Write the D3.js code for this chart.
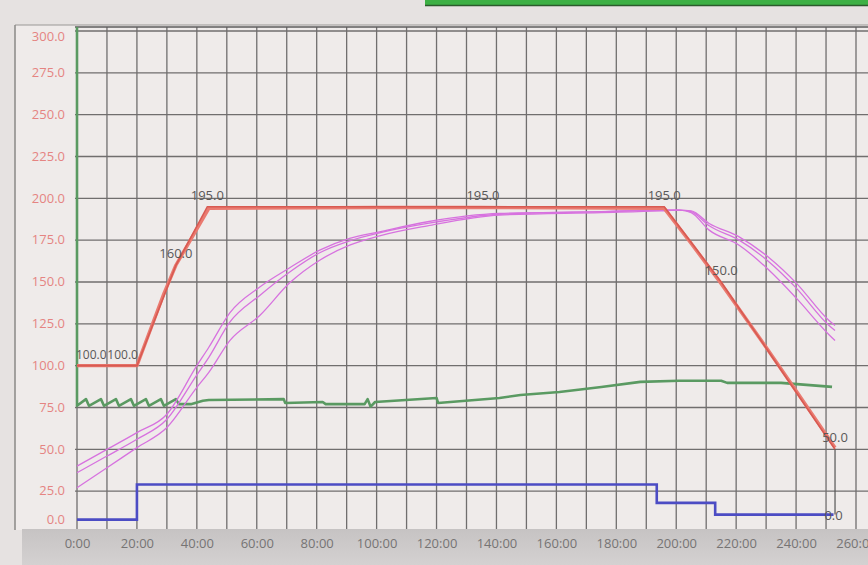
<!DOCTYPE html>
<html><head><meta charset="utf-8">
<script src="https://cdn.jsdelivr.net/npm/d3@7"></script>
<style>
body{margin:0;background:#e8e5e3;}
svg{display:block;font-family:"Open Sans",sans-serif;}
</style>
</head><body>
<svg id="c" width="868" height="565"></svg>
<script>
// ---- data ----
const xTicks = [0,20,40,60,80,100,120,140,160,180,200,220,240,260];
const xGrid = d3.range(0, 280, 10);
const yTicks = [0,25,50,75,100,125,150,175,200,225,250,275,300];

// setpoint profile (red)
const spTime   = [0,20,33,43.5,135.5,196,215,253];
const spValue  = [100,100,160,195,195,195,150,50];
const spLabels = ["100.0","100.0","160.0","195.0","195.0","195.0","150.0","50.0"];

// measured value (red, follows setpoint)
const pvTime  = [0,20,29,33,44,100,135,196,205,215,230,240,253];
const pvValue = [100,100,143,160,194,194.5,194.5,194,173,149,111,85,51];

// blue step series
const blueTime  = [0,20,20,193.5,193.5,213,213,252.5];
const blueValue = [8,8,29,29,18,18,11,11];
const blueLabel = "0.0";

// end drop marker
const endTime = [253,253];
const endValue = [50,11];

// green series
const greenTime  = [0,0,3,4,8,9,13,14,18,19,23,24,28,29,33,34,38,42,44,69,69.5,82,83,96,97,98,99.5,120,120.5,141,148,161,175,188,201,215,217,235,252];
const greenValue = [330,76,80,76,80,76,80,76,80,76,80,76,80,76,80,77,77,79,79.5,80,77.7,78.3,77,77,80,75.5,78.3,80.7,77.7,80.7,82.5,84.3,87.3,90.3,91,91,89.7,89.7,87.3];

// magenta curves (three probes)
const magTime = [0,10,20,30,40,44,51,61,71,81,91,101,117,141,175,195,201,205,211,221,231,240,251,253];
const magA = [40,50,60,71,100,111,131.6,147,158.5,169,176,180,186,191,192,193,193,192.5,185,177,164.5,149.5,127,124];
const magB = [36,46,56,68,94.5,105,126,142,156,167.5,174.6,179.4,185,190.5,192,193,193,192,183.6,175,162,146.5,124,121];
const magC = [27,39,51,63,87,96,115,130,149.5,163,172,177.6,183.6,190,191.5,192.5,193,191.5,181,172,157,140.5,118.5,115];

// ---- scales ----
const x = d3.scaleLinear().domain([0,260]).range([77,856]);
const y = d3.scaleLinear().domain([0,300]).range([533,31]);

const svg = d3.select("#c");

// backgrounds
svg.append("rect").attr("x",0).attr("y",0).attr("width",868).attr("height",565).attr("fill","#e6e2e1");
svg.append("rect").attr("x",15).attr("y",25).attr("width",853).attr("height",505).attr("fill","#efebea");
// green bar at top
svg.append("rect").attr("x",425).attr("y",0).attr("width",443).attr("height",5).attr("fill","#3db044");
svg.append("line").attr("x1",425).attr("x2",868).attr("y1",5.5).attr("y2",5.5).attr("stroke","#2c5a2c").attr("stroke-width",1.5);
// frame
svg.append("line").attr("x1",15).attr("x2",868).attr("y1",25).attr("y2",25).attr("stroke","#9a9896").attr("stroke-width",1.2);
svg.append("line").attr("x1",15).attr("x2",15).attr("y1",25).attr("y2",530).attr("stroke","#8a8886").attr("stroke-width",1.5);
// x axis band
const band = svg.append("defs").append("linearGradient").attr("id","band").attr("x1",0).attr("x2",0).attr("y1",0).attr("y2",1);
band.append("stop").attr("offset","0%").attr("stop-color","#c6c3c3");
band.append("stop").attr("offset","100%").attr("stop-color","#d4d1d1");
svg.append("rect").attr("x",22).attr("y",529).attr("width",846).attr("height",36).attr("fill","url(#band)");

// clip for plot
svg.append("defs").append("clipPath").attr("id","plot")
  .append("rect").attr("x",74).attr("y",27).attr("width",794).attr("height",502);

// grid
const grid = svg.append("g");
grid.selectAll("line.v").data(xGrid).join("line")
  .attr("x1",d=>x(d)).attr("x2",d=>x(d)).attr("y1",27).attr("y2",529)
  .attr("stroke","#706e6e").attr("stroke-width",1.3);
grid.selectAll("line.h").data(yTicks.filter(v=>v>0)).join("line")
  .attr("x1",75).attr("x2",868).attr("y1",d=>y(d)).attr("y2",d=>y(d))
  .attr("stroke","#706e6e").attr("stroke-width",1.3);
svg.append("line").attr("x1",75).attr("x2",868).attr("y1",27).attr("y2",27).attr("stroke","#5e5c5c").attr("stroke-width",1.6);

// y axis labels (clamped into the panel)
const yAxis = d3.axisLeft(y).tickValues(yTicks).tickFormat(d=>d.toFixed(1)).tickSize(0).tickPadding(0);
const ya = svg.append("g").attr("transform","translate(65,0)").call(yAxis);
ya.select(".domain").remove();
ya.selectAll(".tick").attr("transform",d=>`translate(0,${Math.max(37,Math.min(520,y(d)))})`);
ya.selectAll("text").attr("fill","#e58482").attr("font-size",13).attr("font-family","Open Sans, sans-serif");

// x axis labels
const xAxis = d3.axisBottom(x).tickValues(xTicks).tickFormat(d=>d+":00").tickSize(0).tickPadding(0);
const xa = svg.append("g").attr("transform","translate(0,539)").call(xAxis);
xa.select(".domain").remove();
xa.selectAll("text").attr("fill","#767474").attr("font-size",13).attr("font-family","Open Sans, sans-serif");

// series
const plot = svg.append("g").attr("clip-path","url(#plot)");
const line = d3.line().x(d=>x(d[0])).y(d=>y(d[1]));
const zip = (a,b)=>a.map((t,i)=>[t,b[i]]);

plot.append("path").datum(zip(greenTime,greenValue)).attr("d",line)
  .attr("fill","none").attr("stroke","#5a9a62").attr("stroke-width",2.6).attr("stroke-linejoin","round");

[magA,magB,magC].forEach(m=>{
  plot.append("path").datum(zip(magTime,m)).attr("d",line.curve(d3.curveMonotoneX))
    .attr("fill","none").attr("stroke","#d772df").attr("stroke-width",1.3);
});
line.curve(d3.curveLinear);

plot.append("path").datum(zip(blueTime,blueValue)).attr("d",line)
  .attr("fill","none").attr("stroke","#4c4cc4").attr("stroke-width",2.6);

plot.append("path").datum(zip(pvTime,pvValue)).attr("d",line)
  .attr("fill","none").attr("stroke","#ea7a70").attr("stroke-width",3.4).attr("stroke-linejoin","round");
plot.append("path").datum(zip(spTime,spValue)).attr("d",line)
  .attr("fill","none").attr("stroke","#d85a52").attr("stroke-width",1.6);

plot.append("path").datum(zip(endTime,endValue)).attr("d",line)
  .attr("fill","none").attr("stroke","#555").attr("stroke-width",1.2);

// point labels
const lab = svg.append("g").attr("font-size",13).attr("fill","#5a5858").attr("font-family","Open Sans, sans-serif");
spTime.forEach((t,i)=>{
  const anchor = i===0 ? "start" : (i===1 ? "end" : "middle");
  const dx = i===0 ? -1 : (i===1 ? 1 : 0);
  lab.append("text").attr("x",x(t)).attr("dx",dx).attr("y",y(spValue[i])-7)
    .attr("font-size", i<2 ? 12 : 13)
    .attr("text-anchor",anchor).text(spLabels[i]);
});
lab.append("text").attr("x",x(blueTime[blueTime.length-1])).attr("y",y(blueValue[blueValue.length-1])+5)
  .attr("text-anchor","middle").text(blueLabel);
</script>
</body></html>
